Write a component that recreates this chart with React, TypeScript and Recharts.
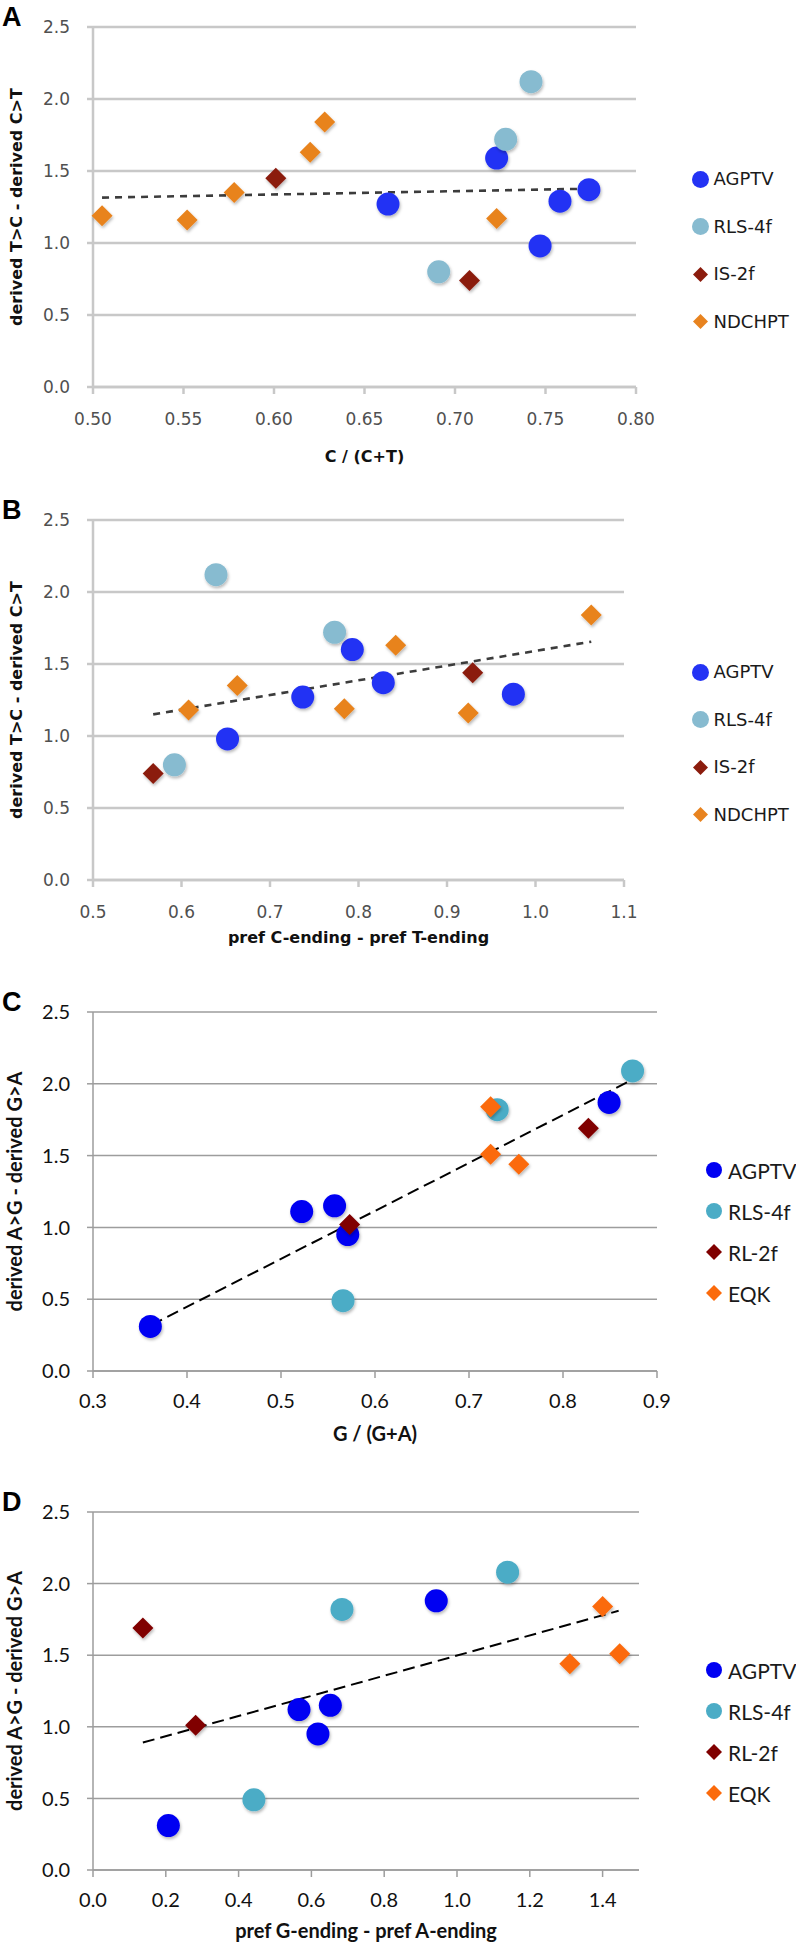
import React from "react";
import { ScatterChart, Scatter, XAxis, YAxis, CartesianGrid, ReferenceLine, Legend } from "recharts";

type Pt = [number, number];

// Panel A: C / (C+T)
const aAgptv: Pt[] = [[0.663, 1.27], [0.723, 1.59], [0.747, 0.98], [0.758, 1.29], [0.774, 1.37]];
const aRls4f: Pt[] = [[0.691, 0.8], [0.728, 1.72], [0.742, 2.12]];
const aIs2f: Pt[] = [[0.601, 1.45], [0.708, 0.74]];
const aNdchpt: Pt[] = [[0.505, 1.19], [0.552, 1.16], [0.578, 1.35], [0.62, 1.63], [0.628, 1.84], [0.723, 1.17]];
const aTrend: Pt[] = [[0.505, 1.315], [0.774, 1.377]];

// Panel B: pref C-ending - pref T-ending
const bAgptv: Pt[] = [[0.652, 0.98], [0.737, 1.27], [0.793, 1.6], [0.828, 1.37], [0.975, 1.29]];
const bRls4f: Pt[] = [[0.592, 0.8], [0.639, 2.12], [0.773, 1.72]];
const bIs2f: Pt[] = [[0.568, 0.74], [0.929, 1.44]];
const bNdchpt: Pt[] = [[0.608, 1.18], [0.663, 1.35], [0.784, 1.19], [0.842, 1.63], [0.924, 1.16], [1.063, 1.84]];
const bTrend: Pt[] = [[0.568, 1.15], [1.063, 1.655]];

// Panel C: G / (G+A)
const cAgptv: Pt[] = [[0.361, 0.31], [0.522, 1.11], [0.557, 1.15], [0.571, 0.95], [0.849, 1.87]];
const cRls4f: Pt[] = [[0.566, 0.49], [0.73, 1.82], [0.874, 2.09]];
const cRl2f: Pt[] = [[0.573, 1.02], [0.827, 1.69]];
const cEqk: Pt[] = [[0.723, 1.84], [0.723, 1.51], [0.753, 1.44]];
const cTrend: Pt[] = [[0.362, 0.32], [0.874, 2.03]];

// Panel D: pref G-ending - pref A-ending
const dAgptv: Pt[] = [[0.207, 0.31], [0.566, 1.12], [0.618, 0.95], [0.652, 1.15], [0.943, 1.88]];
const dRls4f: Pt[] = [[0.442, 0.49], [0.684, 1.82], [1.139, 2.08]];
const dRl2f: Pt[] = [[0.137, 1.69], [0.282, 1.01]];
const dEqk: Pt[] = [[1.31, 1.44], [1.4, 1.84], [1.447, 1.51]];
const dTrend: Pt[] = [[0.137, 0.89], [1.444, 1.81]];

const namesAB = ["AGPTV", "RLS-4f", "IS-2f", "NDCHPT"];
const namesCD = ["AGPTV", "RLS-4f", "RL-2f", "EQK"];

const yTicks = [0, 0.5, 1, 1.5, 2, 2.5];
const aTicks = [0.5, 0.55, 0.6, 0.65, 0.7, 0.75, 0.8];
const bTicks = [0.5, 0.6, 0.7, 0.8, 0.9, 1.0, 1.1];
const cTicks = [0.3, 0.4, 0.5, 0.6, 0.7, 0.8, 0.9];
const dTicks = [0, 0.2, 0.4, 0.6, 0.8, 1.0, 1.2, 1.4];

const toXY = (pts: Pt[]) => pts.map(([x, y]) => ({ x, y }));

const oldStyle = {
  font: "'DejaVu Sans', sans-serif",
  tickSize: 17,
  tickColor: "#505050",
  grid: "#c8c8c8",
  gridWidth: 2.5,
  titleSize: 16,
  legendSize: 18,
  legendStep: 47.5,
  markerX: 700,
  textGap: 4,
  trend: "#3c3c3c",
  trendWidth: 2.6,
  trendDash: "7 6",
  r: 11.5,
  d: 10.5,
  lr: 8.5,
  ld: 7.5,
  colors: ["#2433f4", "#87bbd0", "#8b1c0d", "#e8831f"],
  shapes: ["circle", "circle", "diamond", "diamond"],
};

const newStyle = {
  font: "Lato, 'Open Sans', sans-serif",
  tickSize: 20,
  tickColor: "#111",
  grid: "#9d9d9d",
  gridWidth: 1.5,
  titleSize: 20,
  legendSize: 21,
  legendStep: 41,
  markerX: 714,
  textGap: 5,
  trend: "#000",
  trendWidth: 2,
  trendDash: "12 6",
  r: 11.5,
  d: 10.5,
  lr: 8,
  ld: 8,
  colors: ["#0000f2", "#4bacc6", "#800000", "#fb6a0b"],
  shapes: ["circle", "circle", "diamond", "diamond"],
};

type Theme = typeof oldStyle;

interface PanelProps {
  id: string;
  letter: string;
  top: number;
  height: number;
  plotRight: number;
  plotBottom: number;
  xDomain: [number, number];
  xTicks: number[];
  xDigits: number;
  xTickMargin: number;
  xTitle: string;
  xTitleY: number;
  yTitle: string;
  series: Pt[][];
  names: string[];
  trend: Pt[];
  legendTop: number;
  theme: Theme;
}

function Panel(p: PanelProps) {
  const t = p.theme;
  const plotTop = 27;
  const plotLeft = 93;
  const axisW = 60;
  const axisH = 30;
  const shadow = `shadow-${p.id}`;
  const half = Math.max(t.lr, t.ld) + 1;

  const shape = (i: number) => (s: any) => {
    const color = t.colors[i];
    if (t.shapes[i] === "circle") {
      return <circle cx={s.cx} cy={s.cy} r={t.r} fill={color} filter={`url(#${shadow})`} />;
    }
    const h = t.d;
    return (
      <path
        d={`M${s.cx},${s.cy - h}L${s.cx + h},${s.cy}L${s.cx},${s.cy + h}L${s.cx - h},${s.cy}Z`}
        fill={color}
        filter={`url(#${shadow})`}
      />
    );
  };

  // legend rows keep the series order of the original figure
  const renderLegend = () => (
    <div
      style={{
        position: "relative",
        height: t.legendStep * p.names.length,
        fontFamily: t.font,
        fontSize: t.legendSize,
        color: "#1a1a1a",
      }}
    >
      {p.names.map((name, i) => {
        const c = half;
        return (
          <div
            key={name}
            style={{
              position: "absolute",
              left: 0,
              top: i * t.legendStep - t.legendStep / 2,
              height: t.legendStep,
              display: "flex",
              alignItems: "center",
              whiteSpace: "nowrap",
            }}
          >
            <svg width={half * 2} height={half * 2} style={{ marginRight: t.textGap, display: "block" }}>
              {t.shapes[i] === "circle" ? (
                <circle cx={c} cy={c} r={t.lr} fill={t.colors[i]} />
              ) : (
                <path d={`M${c},${c - t.ld}L${c + t.ld},${c}L${c},${c + t.ld}L${c - t.ld},${c}Z`} fill={t.colors[i]} />
              )}
            </svg>
            <span style={{ lineHeight: 1 }}>{name}</span>
          </div>
        );
      })}
    </div>
  );

  const xTitle = (props: any) => {
    const vb = props.viewBox;
    return (
      <text
        x={vb.x + vb.width / 2}
        y={p.xTitleY}
        textAnchor="middle"
        fontFamily={t.font}
        fontWeight="bold"
        fontSize={t.titleSize}
        fill="#111"
      >
        {p.xTitle}
      </text>
    );
  };

  const yTitle = () => {
    const cx = 22;
    const cy = (plotTop + p.plotBottom) / 2;
    return (
      <text
        x={cx}
        y={cy}
        transform={`rotate(-90 ${cx} ${cy})`}
        textAnchor="middle"
        fontFamily={t.font}
        fontWeight="bold"
        fontSize={t.titleSize}
        fill="#111"
      >
        {p.yTitle}
      </text>
    );
  };

  const lineProps = { stroke: t.grid, strokeWidth: t.gridWidth };
  const tickStyle = { fill: t.tickColor, fontSize: t.tickSize, fontFamily: t.font };

  return (
    <div style={{ position: "absolute", left: 0, top: p.top, width: 796, height: p.height }}>
      <div
        style={{
          position: "absolute",
          left: 2,
          top: 4,
          fontFamily: "'Liberation Sans', Arial, sans-serif",
          fontWeight: "bold",
          fontSize: 27,
          lineHeight: "27px",
          color: "#000",
        }}
      >
        {p.letter}
      </div>
      <ScatterChart
        width={796}
        height={p.height}
        margin={{
          top: plotTop,
          right: 796 - p.plotRight,
          left: plotLeft - axisW,
          bottom: p.height - p.plotBottom - axisH,
        }}
      >
        <defs>
          <filter id={shadow} x="-50%" y="-50%" width="200%" height="200%">
            <feDropShadow dx="1" dy="2" stdDeviation="1.6" floodColor="#000" floodOpacity="0.28" />
          </filter>
        </defs>
        <CartesianGrid vertical={false} stroke={t.grid} strokeWidth={t.gridWidth} />
        <XAxis
          type="number"
          dataKey="x"
          domain={p.xDomain}
          ticks={p.xTicks}
          interval={0}
          height={axisH}
          tickFormatter={(v: number) => v.toFixed(p.xDigits)}
          axisLine={lineProps}
          tickLine={lineProps}
          tickSize={7}
          tickMargin={p.xTickMargin}
          tick={tickStyle}
          label={{ content: xTitle }}
        />
        <YAxis
          type="number"
          dataKey="y"
          domain={[0, 2.5]}
          ticks={yTicks}
          interval={0}
          width={axisW}
          tickFormatter={(v: number) => v.toFixed(1)}
          axisLine={lineProps}
          tickLine={lineProps}
          tickSize={6}
          tickMargin={17}
          tick={tickStyle}
          label={{ content: yTitle }}
        />
        {p.series.map((s, i) => (
          <Scatter
            key={p.names[i]}
            name={p.names[i]}
            data={toXY(s)}
            fill={t.colors[i]}
            legendType={t.shapes[i] as any}
            shape={shape(i)}
            isAnimationActive={false}
          />
        ))}
        <ReferenceLine
          segment={[
            { x: p.trend[0][0], y: p.trend[0][1] },
            { x: p.trend[1][0], y: p.trend[1][1] },
          ]}
          stroke={t.trend}
          strokeWidth={t.trendWidth}
          strokeDasharray={t.trendDash}
        />
        <Legend
          layout="vertical"
          align="center"
          verticalAlign="middle"
          content={renderLegend}
          wrapperStyle={{
            left: t.markerX - half,
            top: p.legendTop,
            width: 110,
            height: 0,
            margin: 0,
            padding: 0,
          }}
        />
      </ScatterChart>
    </div>
  );
}

export default function App() {
  return (
    <div style={{ position: "absolute", left: 0, top: 0, width: 796, height: 1947, background: "#fff", overflow: "hidden" }}>
      <Panel
        id="a"
        letter="A"
        top={0}
        height={490}
        plotRight={636}
        plotBottom={387}
        xDomain={[0.5, 0.8]}
        xTicks={aTicks}
        xDigits={2}
        xTickMargin={19}
        xTitle="C / (C+T)"
        xTitleY={462}
        yTitle="derived T>C - derived C>T"
        series={[aAgptv, aRls4f, aIs2f, aNdchpt]}
        names={namesAB}
        trend={aTrend}
        legendTop={179}
        theme={oldStyle}
      />
      <Panel
        id="b"
        letter="B"
        top={493}
        height={490}
        plotRight={624}
        plotBottom={387}
        xDomain={[0.5, 1.1]}
        xTicks={bTicks}
        xDigits={1}
        xTickMargin={19}
        xTitle="pref C-ending - pref T-ending"
        xTitleY={450}
        yTitle="derived T>C - derived C>T"
        series={[bAgptv, bRls4f, bIs2f, bNdchpt]}
        names={namesAB}
        trend={bTrend}
        legendTop={179}
        theme={oldStyle}
      />
      <Panel
        id="c"
        letter="C"
        top={985}
        height={490}
        plotRight={657}
        plotBottom={386}
        xDomain={[0.3, 0.9]}
        xTicks={cTicks}
        xDigits={1}
        xTickMargin={16}
        xTitle="G / (G+A)"
        xTitleY={456}
        yTitle="derived A>G - derived G>A"
        series={[cAgptv, cRls4f, cRl2f, cEqk]}
        names={namesCD}
        trend={cTrend}
        legendTop={185}
        theme={newStyle}
      />
      <Panel
        id="d"
        letter="D"
        top={1485}
        height={462}
        plotRight={639}
        plotBottom={385}
        xDomain={[0, 1.5]}
        xTicks={dTicks}
        xDigits={1}
        xTickMargin={16}
        xTitle="pref G-ending - pref A-ending"
        xTitleY={453}
        yTitle="derived A>G - derived G>A"
        series={[dAgptv, dRls4f, dRl2f, dEqk]}
        names={namesCD}
        trend={dTrend}
        legendTop={185}
        theme={newStyle}
      />
    </div>
  );
}
